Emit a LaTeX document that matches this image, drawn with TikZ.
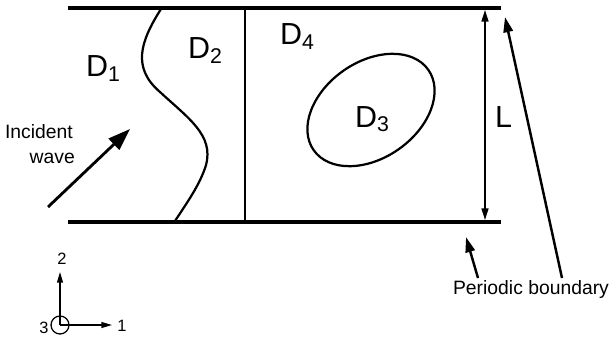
\documentclass[tikz,border=0pt]{standalone}
\usepackage{fontspec}
\setmainfont{Liberation Sans}
\usetikzlibrary{arrows.meta, positioning, calc}
\tikzset{
  wall/.style={line width=3.8pt},
  thin line/.style={line width=1.9pt},
  pointer/.style={line width=2.1pt, -{Triangle[length=13pt, width=8pt]}},
  wave arrow/.style={line width=2.4pt, -{Triangle[length=19pt, width=13pt]}},
  dimarrow/.style={line width=1.3pt, {Triangle[length=10pt, width=6pt]}-{Triangle[length=10pt, width=6pt]}},
  axisarrow/.style={line width=1.1pt, -{Triangle[length=9pt, width=5pt]}},
  domain label/.style={font=\fontsize{26}{30}\selectfont, inner sep=0pt, anchor=base west},
  note/.style={font=\fontsize{16.5}{21}\selectfont, inner sep=0pt},
  axis label/.style={font=\fontsize{14}{16}\selectfont, inner sep=0pt},
}
\newcommand{\dom}[1]{D\textsubscript{#1}}

\begin{document}
\begin{tikzpicture}[x=0.03cm, y=-0.03cm]
  \useasboundingbox (0,0) rectangle (611,338);

  % walls of the strip
  \coordinate (topL) at (68,8);
  \coordinate (topR) at (501,8);
  \coordinate (botL) at (68,222);
  \coordinate (botR) at (501,222);
  \draw[wall] (topL) -- (topR);
  \draw[wall] (botL) -- (botR);

  % interfaces
  \draw[thin line] (245,8) -- (245,222);
  \draw[thin line] (161,9) .. controls (140,42) and (132,68) .. (160,92)
        .. controls (188,118) and (214,135) .. (206,165)
        .. controls (200,185) and (186,204) .. (175,221);
  \draw[thin line, rotate around={35:(371,110)}] (371,110) ellipse (70 and 48);

  % domains
  \node[domain label] (d1) at (86,77) {\dom{1}};
  \node[domain label] (d2) at (188,59) {\dom{2}};
  \node[domain label] (d4) at (280,45) {\dom{4}};
  \node[domain label] (d3) at (355,127) {\dom{3}};

  % period length
  \coordinate (ltop) at (485,10);
  \coordinate (lbot) at (485,220);
  \draw[dimarrow] (ltop) -- (lbot);
  \node[domain label] (lab) at (495,128) {L};

  % incident wave
  \node[note, anchor=base east] (inc1) at (73,138) {Incident};
  \node[note, anchor=base east] (inc2) at (75,163) {wave};
  \coordinate (wtail) at (48,207);
  \coordinate (whead) at (130,129);
  \draw[wave arrow] (wtail) -- (whead);

  % periodic boundary
  \node[note] (pb) at (531,290) {Periodic boundary};
  \coordinate (pa) at (478,278);
  \coordinate (pb1) at (562,278);
  \draw[pointer] (pa) -- (466,237);
  \draw[pointer] (pb1) -- (505,17);

  % axes
  \coordinate (o) at (60,325);
  \draw[line width=1.1pt] (o) circle (9);
  \draw[axisarrow] (o) -- (60,272) coordinate (e2);
  \draw[axisarrow] (o) -- (112,325) coordinate (e1);
  \node[axis label] (n2) at (62,259) {2};
  \node[axis label] (n1) at (122,326) {1};
  \node[axis label] (n3) at (44,328) {3};
\end{tikzpicture}
\end{document}
